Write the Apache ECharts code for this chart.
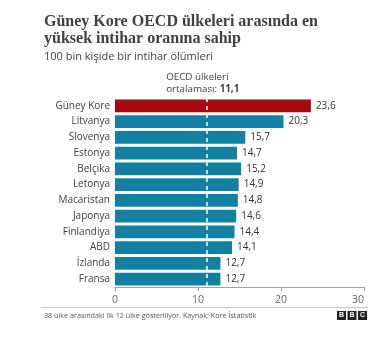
<!DOCTYPE html>
<html>
<head>
<meta charset="utf-8">
<script src="https://cdn.jsdelivr.net/npm/echarts@6/dist/echarts.min.js"></script>
<style>
html,body{margin:0;padding:0;background:#fff;}
#c{width:382px;height:338px;}
</style>
</head>
<body>
<div id="c"></div>
<script>
const categories = ['Güney Kore','Litvanya','Slovenya','Estonya','Belçika','Letonya','Macaristan','Japonya','Finlandiya','ABD','İzlanda','Fransa'];
const values = [23.6, 20.3, 15.7, 14.7, 15.2, 14.9, 14.8, 14.6, 14.4, 14.1, 12.7, 12.7];
const oecdAverage = 11.1;
const xTicks = [0, 10, 20, 30];
const titleLines = ['Güney Kore OECD ülkeleri arasında en', 'yüksek intihar oranına sahip'];
const subtitle = '100 bin kişide bir intihar ölümleri';
const footnote = '38 ülke arasındaki ilk 12 ülke gösteriliyor. Kaynak: Kore İstatistik';

const chart = echarts.init(document.getElementById('c'), null, {renderer:'canvas'});
const fmt = v => String(v).replace('.', ',');

const option = {
  backgroundColor: '#fff',
  animation: false,
  grid: {left: 115, right: 18, top: 98, bottom: 51, containLabel: false},
  xAxis: {
    type: 'value', min: xTicks[0], max: xTicks[xTicks.length-1], interval: 10,
    axisLine: {show: true, lineStyle: {color: '#a0a0a0', width: 1}},
    axisTick: {show: true, length: 4, lineStyle: {color: '#a0a0a0'}},
    splitLine: {show: false},
    axisLabel: {color: '#666', fontSize: 10.5, fontFamily: 'Open Sans', margin: 8, alignMaxLabel: 'right'}
  },
  yAxis: {
    type: 'category', data: categories, inverse: true,
    axisLine: {show: false}, axisTick: {show: false},
    axisLabel: {color: '#404040', fontSize: 10, fontFamily: 'Open Sans', margin: 5}
  },
  series: [{
    type: 'bar',
    data: values.map((v, i) => ({value: v, itemStyle: {color: i === 0 ? '#a50a10' : '#1380a1'}})),
    barCategoryGap: '18%',
    label: {show: true, position: 'right', distance: 5, color: '#333', fontSize: 10, fontFamily: 'Open Sans',
            formatter: p => fmt(p.value)},
    markLine: {
      silent: true, symbol: 'none', z: 10,
      lineStyle: {color: '#fff', type: [4, 4], width: 1.5},
      label: {show: false},
      data: [{xAxis: oecdAverage}]
    }
  }],
  graphic: [
    {type: 'text', left: 44, top: 14, style: {text: titleLines[0], font: 'bold 16px "Liberation Serif"', fill: '#404040'}},
    {type: 'text', left: 44, top: 31, style: {text: titleLines[1], font: 'bold 16px "Liberation Serif"', fill: '#404040'}},
    {type: 'text', left: 44, top: 51, style: {text: subtitle, font: '11px "Open Sans"', fill: '#404040'}},
    {type: 'line', shape: {x1: 41, y1: 307.5, x2: 368, y2: 307.5}, style: {stroke: '#c8c8c8', lineWidth: 1}},
    {type: 'text', left: 44, top: 312, style: {text: footnote, font: '7.2px "Open Sans"', fill: '#555'}}
  ]
};
chart.setOption(option);

// annotation for OECD average, positioned through the axis scale
const px = chart.convertToPixel({xAxisIndex: 0}, oecdAverage);
const extra = [
  {type: 'text', x: px - 41, y: 72, style: {text: 'OECD ülkeleri', font: '9.8px "Open Sans"', fill: '#404040'}},
  {type: 'text', x: px - 41, y: 84, style: {rich: {a: {font: '9.8px "Open Sans"', fill: '#404040'}, b: {font: 'bold 9.8px "Open Sans"', fill: '#404040'}}, text: '{a|ortalaması: }{b|' + fmt(oecdAverage) + '}'}}
];
// BBC logo blocks
['B','B','C'].forEach((ch, i) => {
  const x0 = 337 + i * 10.5;
  extra.push({type: 'rect', shape: {x: x0, y: 311, width: 9, height: 9}, style: {fill: '#222'}});
  extra.push({type: 'text', x: x0 + 4.5, y: 315.5, style: {text: ch, font: 'bold 7px "Liberation Sans"', fill: '#fff', align: 'center', verticalAlign: 'middle'}});
});
chart.setOption({graphic: option.graphic.concat(extra)});
</script>
</body>
</html>
